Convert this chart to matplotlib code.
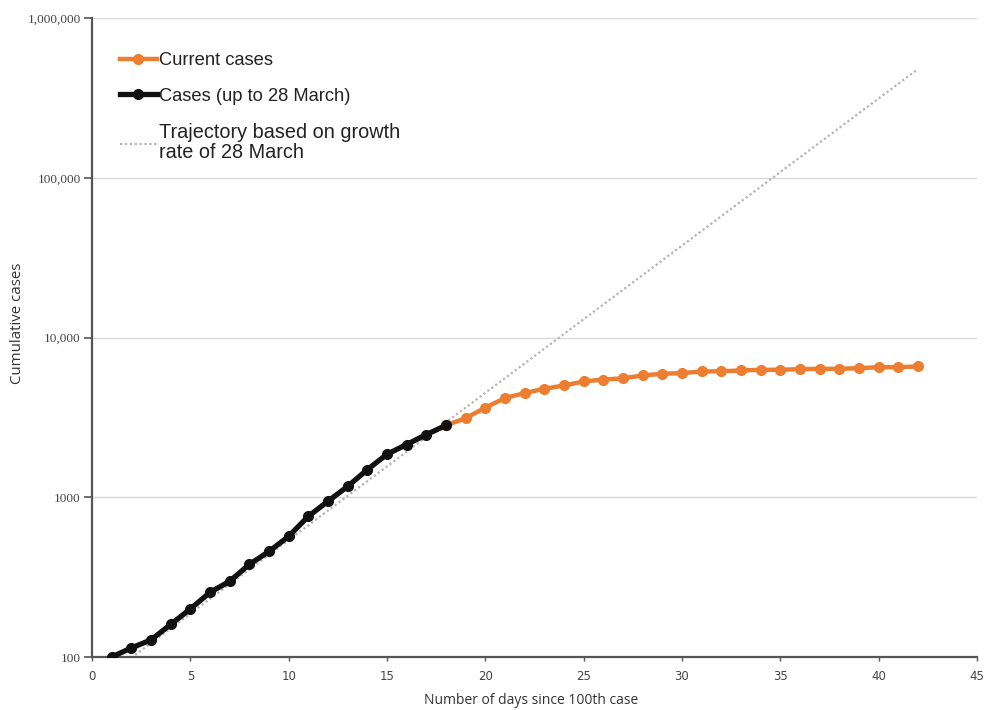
import numpy as np
import matplotlib
matplotlib.use('Agg')
from matplotlib import pyplot as plt
from matplotlib.ticker import FixedLocator, FixedFormatter, NullLocator

# cumulative cases, day 1 = 100th case
early_days = list(range(1, 19))
early_cases = [100, 114, 128, 160, 200, 254, 298, 380, 458, 570,
               760, 945, 1170, 1490, 1860, 2140, 2470, 2820]

current_days = list(range(18, 43))
current_cases = [2820, 3130, 3640, 4180, 4490, 4780, 5010, 5310, 5460, 5550,
                 5790, 5930, 5990, 6130, 6150, 6220, 6280, 6280, 6340, 6370,
                 6370, 6430, 6520, 6520, 6590]

# straight line on log scale (growth rate of 28 March)
trajectory_days = [1, 42]
trajectory_cases = [80, 480000]

y_ticks = [100, 1000, 10000, 100000, 1000000]
y_labels = ['100', '1000', '10,000', '100,000', '1,000,000']
x_ticks = [0, 5, 10, 15, 20, 25, 30, 35, 40, 45]

fig = plt.figure(figsize=(9.84, 7.1), dpi=100)
ax = fig.add_axes([0.0935, 0.0746, 0.8994, 0.9])

ax.plot(trajectory_days, trajectory_cases, color='#b4b4b4', lw=1.6,
        linestyle=(0, (1, 1.2)), label='Trajectory based on growth\nrate of 28 March', zorder=2)
ax.plot(current_days, current_cases, color='#ED7D31', lw=3.2, marker='o', ms=7,
        label='Current cases', zorder=3)
ax.plot(early_days, early_cases, color='#111111', lw=3.8, marker='o', ms=7,
        label='Cases (up to 28 March)', zorder=4)

ax.set_yscale('log')
ax.set_ylim(100, 1000000)
ax.set_xlim(0, 45)
ax.yaxis.set_major_locator(FixedLocator(y_ticks))
ax.yaxis.set_major_formatter(FixedFormatter(y_labels))
ax.yaxis.set_minor_locator(NullLocator())
ax.set_xticks(x_ticks)

for s in ['top', 'right']:
    ax.spines[s].set_visible(False)
for s in ['left', 'bottom']:
    ax.spines[s].set_color('#555555')
    ax.spines[s].set_linewidth(1.6)

ax.grid(axis='y', color='#d9d9d9', lw=1)
ax.set_axisbelow(True)
ax.tick_params(axis='y', length=6, width=1.2, color='#555555', labelsize=9.5,
               labelcolor='#444444', pad=2)
ax.tick_params(axis='x', length=3, width=1, color='#555555', labelsize=8.5,
               labelcolor='#444444', pad=6)
for lab in ax.get_yticklabels():
    lab.set_family('Liberation Serif')

ax.set_ylabel('Cumulative cases', fontsize=10.8, family='Open Sans', color='#333333')
ax.yaxis.set_label_coords(-0.076, 0.523)
ax.set_xlabel('Number of days since 100th case', fontsize=10, family='Open Sans',
              color='#333333')
ax.xaxis.set_label_coords(0.496, -0.056)

handles, labels = ax.get_legend_handles_labels()
order = [1, 2, 0]
leg = ax.legend([handles[i] for i in order], [labels[i] for i in order],
                loc='upper left', bbox_to_anchor=(0.013, 0.972), frameon=False,
                handlelength=2.0, handletextpad=0.1, labelspacing=1.0,
                prop={'family': 'Liberation Sans', 'size': 13.2})
texts = leg.get_texts()
for t in texts:
    t.set_color('#222222')
texts[2].set_fontsize(14.3)
texts[2].set_linespacing(1.05)

fig.savefig('out.png', dpi=100)
